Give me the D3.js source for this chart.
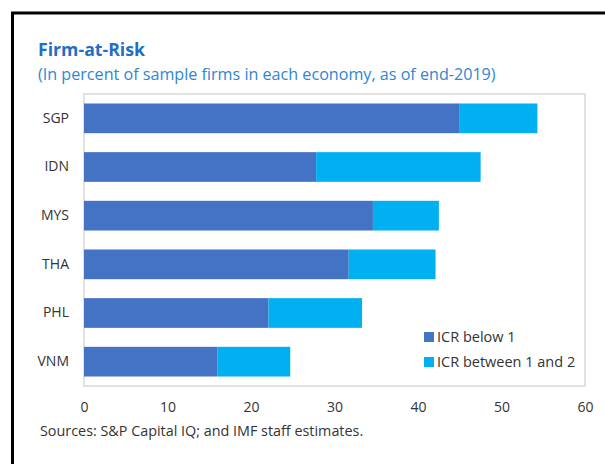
<!DOCTYPE html>
<html>
<head>
<meta charset="utf-8">
<script src="https://cdn.jsdelivr.net/npm/d3@7"></script>
<style>
  html, body { margin: 0; padding: 0; background: #fff; }
  svg { display: block; }
  text { font-family: "Segoe UI", "Open Sans", "Noto Sans", sans-serif; }
</style>
</head>
<body>
<svg id="chart" width="605" height="464"></svg>
<script>
const categories = ["SGP", "IDN", "MYS", "THA", "PHL", "VNM"];
const icrBelow1 = [45.0, 27.8, 34.6, 31.7, 22.1, 16.0];
const icrBetween1and2 = [9.3, 19.7, 7.9, 10.4, 11.2, 8.7];
const seriesNames = ["ICR below 1", "ICR between 1 and 2"];
const xTicks = [0, 10, 20, 30, 40, 50, 60];
const titleText = "Firm-at-Risk";
const subtitleText = "(In percent of sample firms in each economy, as of end-2019)";
const sourceText = "Sources: S&P Capital IQ; and IMF staff estimates.";

const colors = ["#4472C4", "#00B0F0"];

const svg = d3.select("#chart");

// outer frame (left and top only visible)
svg.append("path")
  .attr("d", "M12.5,470 L12.5,13 L610,13")
  .attr("fill", "none").attr("stroke", "#000").attr("stroke-width", 3);

function fitText(sel, target) {
  const node = sel.node();
  let fs = parseFloat(sel.attr("font-size"));
  for (let i = 0; i < 6; i++) {
    const w = node.getComputedTextLength();
    if (w <= 0) break;
    fs = fs * target / w;
    sel.attr("font-size", fs);
  }
}

const title = svg.append("text").attr("x", 38).attr("y", 56)
  .attr("font-size", 17).attr("font-weight", "bold").attr("fill", "#1F6FC5")
  .text(titleText);
fitText(title, 107);

const sub = svg.append("text").attr("x", 38).attr("y", 80)
  .attr("font-size", 15).attr("fill", "#2E86D4")
  .text(subtitleText);
fitText(sub, 458);

const x0 = 84, x1 = 585, y0 = 94, y1 = 386;

const x = d3.scaleLinear().domain([0, 60]).range([x0, x1]);
const y = d3.scaleBand().domain(categories).range([y0, y1]).paddingInner(0.39).paddingOuter(0.195);

// plot frame
svg.append("rect").attr("x", x0).attr("y", y0).attr("width", x1 - x0).attr("height", y1 - y0)
  .attr("fill", "none").attr("stroke", "#D9D9D9").attr("stroke-width", 1.5);

const table = categories.map((c, i) => ({ cat: c, a: icrBelow1[i], b: icrBetween1and2[i] }));
const stacked = d3.stack().keys(["a", "b"])(table);

svg.append("g").selectAll("g").data(stacked).join("g")
  .attr("fill", (d, i) => colors[i])
  .selectAll("rect").data(d => d).join("rect")
  .attr("x", d => x(d[0]))
  .attr("width", d => x(d[1]) - x(d[0]))
  .attr("y", d => y(d.data.cat))
  .attr("height", y.bandwidth());

// y labels
const yAxis = svg.append("g").attr("transform", `translate(${x0 - 15},0)`)
  .call(d3.axisLeft(y).tickSize(0).tickPadding(0));
yAxis.select(".domain").remove();
yAxis.selectAll("text").attr("font-size", 14).attr("fill", "#333")
  .attr("font-family", '"Segoe UI", "Open Sans", sans-serif');

// x labels
const xAxis = svg.append("g").attr("transform", `translate(0,${y1})`)
  .call(d3.axisBottom(x).tickValues(xTicks).tickSize(0).tickPadding(16));
xAxis.select(".domain").remove();
xAxis.selectAll("text").attr("font-size", 14).attr("fill", "#333")
  .attr("font-family", '"Segoe UI", "Open Sans", sans-serif');

// legend
const leg = svg.append("g");
seriesNames.forEach((n, i) => {
  const ly = 337 + i * 25;
  leg.append("rect").attr("x", 424).attr("y", ly - 5).attr("width", 10).attr("height", 10).attr("fill", colors[i]);
  leg.append("text").attr("x", 437).attr("y", ly).attr("dy", "0.35em")
    .attr("font-size", 14.5).attr("fill", "#333").text(n);
});

const src = svg.append("text").attr("x", 40).attr("y", 436)
  .attr("font-size", 13).attr("fill", "#333").text(sourceText);
fitText(src, 323);
</script>
</body>
</html>
